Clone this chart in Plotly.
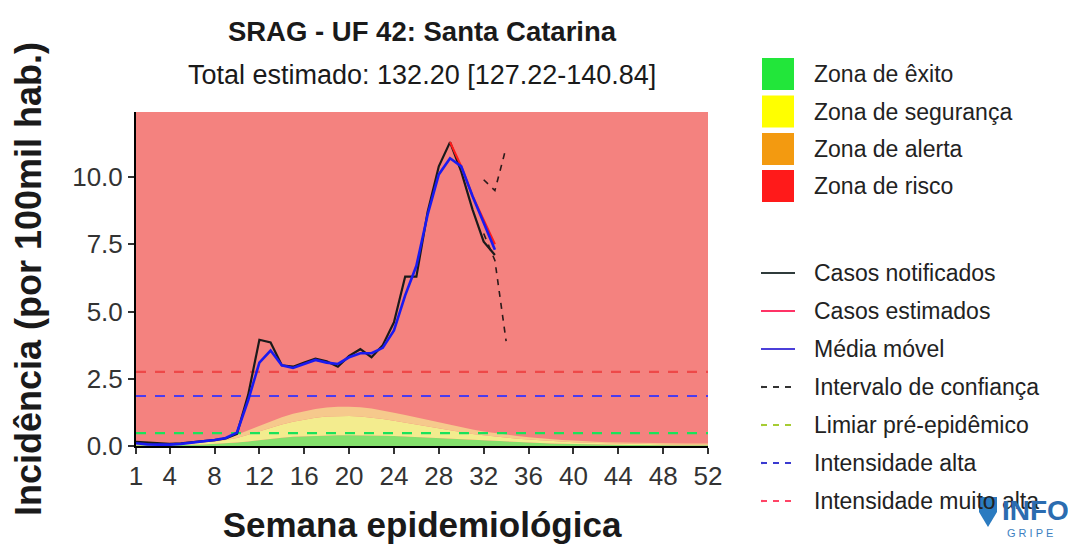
import plotly.graph_objects as go

# ---------------- data ----------------
weeks = list(range(1, 53))
tick_weeks = [1, 4, 8, 12, 16, 20, 24, 28, 32, 36, 40, 44, 48, 52]
y_ticks = [0, 2.5, 5, 7.5, 10]

obs_weeks = list(range(1, 34))
notified = [0.15, 0.12, 0.10, 0.08, 0.10, 0.13, 0.18, 0.22, 0.28, 0.45,
            1.90, 3.95, 3.85, 3.00, 2.95, 3.10, 3.25, 3.15, 2.95, 3.35,
            3.60, 3.30, 3.75, 4.60, 6.30, 6.30, 8.70, 10.40, 11.30, 10.20,
            8.80, 7.60, 7.10]
moving_avg = [0.10, 0.06, 0.05, 0.05, 0.08, 0.12, 0.17, 0.22, 0.30, 0.50,
              1.70, 3.10, 3.55, 3.00, 2.90, 3.05, 3.20, 3.10, 3.05, 3.30,
              3.45, 3.45, 3.65, 4.30, 5.60, 6.70, 8.60, 10.10, 10.70, 10.40,
              9.30, 8.30, 7.30]
est_weeks = [29, 30, 31, 32, 33]
estimated = [11.30, 10.40, 9.30, 8.40, 7.50]
ci_weeks = [32, 33, 34]
ci_upper = [9.9, 9.5, 11.1]
ci_lower = [7.9, 6.9, 3.9]

limiar_pre = 0.48
intens_alta = 1.86
intens_muito_alta = 2.76

green_top = [0.03, 0.03, 0.03, 0.03, 0.04, 0.05, 0.06, 0.08, 0.10, 0.13,
             0.17, 0.22, 0.27, 0.31, 0.34, 0.36, 0.38, 0.39, 0.40, 0.40,
             0.40, 0.39, 0.38, 0.37, 0.35, 0.33, 0.31, 0.29, 0.26, 0.24,
             0.21, 0.19, 0.17, 0.15, 0.13, 0.12, 0.10, 0.09, 0.08, 0.07,
             0.06, 0.06, 0.05, 0.05, 0.04, 0.04, 0.03, 0.03, 0.03, 0.03,
             0.03, 0.03]
yellow_top = [0.06, 0.06, 0.06, 0.07, 0.08, 0.10, 0.13, 0.17, 0.22, 0.30,
              0.42, 0.55, 0.68, 0.80, 0.90, 0.98, 1.05, 1.10, 1.12, 1.12,
              1.10, 1.06, 1.00, 0.94, 0.87, 0.80, 0.72, 0.65, 0.58, 0.51,
              0.45, 0.40, 0.35, 0.31, 0.27, 0.24, 0.21, 0.18, 0.16, 0.14,
              0.12, 0.11, 0.10, 0.09, 0.08, 0.08, 0.07, 0.07, 0.06, 0.06,
              0.06, 0.06]
orange_top = [0.09, 0.09, 0.09, 0.10, 0.12, 0.15, 0.19, 0.25, 0.32, 0.42,
              0.58, 0.75, 0.92, 1.07, 1.20, 1.30, 1.38, 1.43, 1.46, 1.46,
              1.44, 1.39, 1.32, 1.24, 1.15, 1.06, 0.96, 0.87, 0.78, 0.69,
              0.61, 0.54, 0.48, 0.42, 0.37, 0.33, 0.29, 0.25, 0.22, 0.20,
              0.17, 0.16, 0.14, 0.13, 0.12, 0.11, 0.10, 0.10, 0.09, 0.09,
              0.09, 0.09]

zone_labels = ["Zona de êxito", "Zona de segurança", "Zona de alerta", "Zona de risco"]
zone_key_colors = ["#22E63A", "#FFFF00", "#F39A10", "#FF1A1A"]
zone_fill_colors = ["#84E06C", "#F3EC8E", "#F6C98C", "#F4827F"]

line_labels = ["Casos notificados", "Casos estimados", "Média móvel",
               "Intervalo de confiança", "Limiar pré-epidêmico",
               "Intensidade alta", "Intensidade muito alta"]
line_colors = ["#2F3B3B", "#FF3366", "#4B3FD9", "#333333", "#A6CC33", "#3A3AD0", "#FF4466"]
line_dashes = ["solid", "solid", "solid", "6px,6px", "6px,6px", "6px,6px", "6px,6px"]

# ---------------- geometry ----------------
OFF = 8                      # page body margin offset
W, H = 1076 - OFF, 544 - OFF
L, T = 136 - OFF, 112 - OFF  # panel left/top in figure pixels
R = W - (708 - OFF)
B = H - (446 - OFF)
Y_MAX = 12.42
FONT = "Liberation Sans, Arial, sans-serif"


def px(x):
    """page x pixel -> paper coordinate"""
    return (x - OFF - L) / (W - L - R)


def py(y):
    """page y pixel -> paper coordinate"""
    return (H - B - (y - OFF)) / (H - T - B)


fig = go.Figure()

# zones (red zone = panel background)
fig.add_trace(go.Scatter(x=weeks, y=[0] * len(weeks), mode="lines",
                         line=dict(width=0), showlegend=False, hoverinfo="skip"))
for top, col in zip([green_top, yellow_top, orange_top], zone_fill_colors[:3]):
    fig.add_trace(go.Scatter(x=weeks, y=top, mode="lines", line=dict(width=0),
                             fill="tonexty", fillcolor=col, showlegend=False,
                             hoverinfo="skip"))

# threshold lines
for val, col in [(limiar_pre, "#19E35A"), (intens_alta, "#4A3BEF"),
                 (intens_muito_alta, "#EE4848")]:
    fig.add_trace(go.Scatter(x=[weeks[0], weeks[-1]], y=[val, val], mode="lines",
                             line=dict(color=col, width=2.2, dash="10px,9px"),
                             showlegend=False))

# series
fig.add_trace(go.Scatter(x=obs_weeks, y=notified, mode="lines",
                         line=dict(color="#1A1A1A", width=2.2), showlegend=False))
fig.add_trace(go.Scatter(x=est_weeks, y=estimated, mode="lines",
                         line=dict(color="#FF1A1A", width=2.2), showlegend=False))
fig.add_trace(go.Scatter(x=obs_weeks, y=moving_avg, mode="lines",
                         line=dict(color="#1A1AF0", width=2.6), showlegend=False))
fig.add_trace(go.Scatter(x=ci_weeks, y=ci_upper, mode="lines",
                         line=dict(color="#2A1A1A", width=1.6, dash="6px,6px"),
                         showlegend=False))
fig.add_trace(go.Scatter(x=ci_weeks, y=ci_lower, mode="lines",
                         line=dict(color="#2A1A1A", width=1.6, dash="6px,6px"),
                         showlegend=False))

shapes = []
annotations = []

# manual legend: zones
zone_centers = [74, 111.5, 149, 186]
for lab, col, c in zip(zone_labels, zone_key_colors, zone_centers):
    shapes.append(dict(type="rect", xref="paper", yref="paper",
                       x0=px(762), x1=px(794), y0=py(c + 16), y1=py(c - 16),
                       fillcolor=col, line=dict(width=0)))
    annotations.append(dict(text=lab, xref="paper", yref="paper", x=px(812), y=py(c),
                            xanchor="left", yanchor="middle", showarrow=False,
                            font=dict(family=FONT, size=23, color="#222222")))

# manual legend: lines
line_centers = [273, 311, 349, 387, 425, 463, 501]
for lab, col, dsh, c in zip(line_labels, line_colors, line_dashes, line_centers):
    shapes.append(dict(type="line", xref="paper", yref="paper",
                       x0=px(761), x1=px(795), y0=py(c), y1=py(c),
                       line=dict(color=col, width=2.2, dash=dsh)))
    annotations.append(dict(text=lab, xref="paper", yref="paper", x=px(812), y=py(c),
                            xanchor="left", yanchor="middle", showarrow=False,
                            font=dict(family=FONT, size=23, color="#222222")))

# subtitle
annotations.append(dict(text="Total estimado: 132.20 [127.22-140.84]", xref="paper",
                        yref="paper", x=0.5, y=py(75), xanchor="center",
                        yanchor="middle", showarrow=False,
                        font=dict(family=FONT, size=27, color="#1A1A1A")))

# InfoGripe logo
annotations.append(dict(text="<b>INFO</b>", xref="paper", yref="paper", x=px(1000),
                        y=py(510), xanchor="left", yanchor="middle", showarrow=False,
                        font=dict(family=FONT, size=28, color="#2B6CB0")))
annotations.append(dict(text="G R I P E", xref="paper", yref="paper", x=px(1005),
                        y=py(533), xanchor="left", yanchor="middle", showarrow=False,
                        font=dict(family=FONT, size=11, color="#3D7FC1")))
shield = [(979, 497), (997, 497), (997, 512), (988, 527), (979, 512)]
path = "M " + " L ".join(f"{px(a):.5f},{py(b):.5f}" for a, b in shield) + " Z"
shapes.append(dict(type="path", xref="paper", yref="paper", path=path,
                   fillcolor="#2B7BC0", line=dict(width=0)))

fig.update_layout(
    width=W, height=H,
    margin=dict(l=L, r=R, t=T, b=B, autoexpand=False),
    paper_bgcolor="white",
    plot_bgcolor=zone_fill_colors[3],
    showlegend=False,
    font=dict(family=FONT, color="#1A1A1A"),
    title=dict(text="<b>SRAG - UF 42: Santa Catarina</b>", x=0.5, xref="paper",
               xanchor="center", y=1 - (31 - OFF) / H, yref="container", yanchor="middle",
               font=dict(family=FONT, size=27.5, color="#1A1A1A")),
    shapes=shapes,
    annotations=annotations,
)

fig.update_xaxes(range=[1, 52], tickvals=tick_weeks, ticktext=[str(t) for t in tick_weeks],
                 automargin=False,
                 showgrid=False, zeroline=False, showline=True, linecolor="black",
                 linewidth=2, ticks="outside", ticklen=6, tickwidth=2, tickcolor="#333333",
                 tickfont=dict(family=FONT, size=26, color="#333333"),
                 title=dict(text="<b>Semana epidemiológica</b>", standoff=22,
                            font=dict(family=FONT, size=35, color="#1A1A1A")))
fig.update_yaxes(range=[0, Y_MAX], tickvals=y_ticks, tickformat=".1f",
                 automargin=False,
                 showgrid=False, zeroline=False, showline=True, linecolor="black",
                 linewidth=2, ticks="outside", ticklen=6, tickwidth=2, tickcolor="#333333",
                 tickfont=dict(family=FONT, size=26, color="#333333"),
                 title=dict(text="<b>Incidência (por 100mil hab.)</b>", standoff=20,
                            font=dict(family=FONT, size=36, color="#1A1A1A")))

fig.write_html("out.html")
